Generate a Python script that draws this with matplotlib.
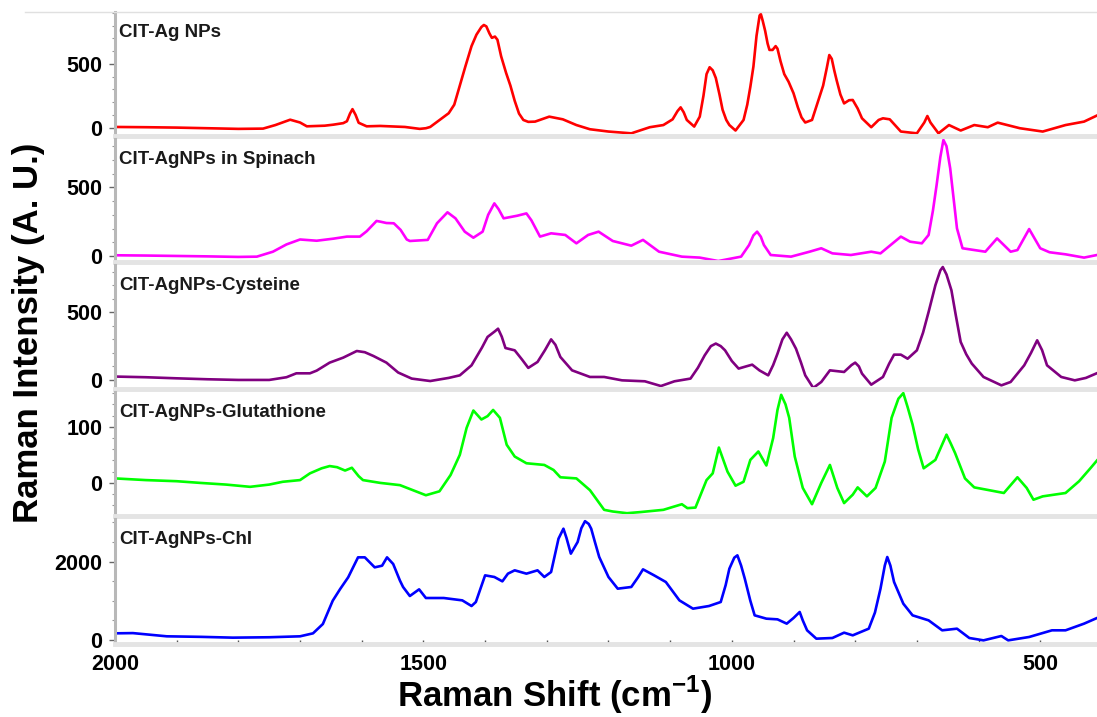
import matplotlib
matplotlib.use("Agg")
import matplotlib.pyplot as plt
from matplotlib.ticker import MultipleLocator, FixedLocator
from matplotlib.lines import Line2D

plt.rcParams["font.family"] = ["Liberation Sans", "DejaVu Sans"]
plt.rcParams["font.weight"] = "bold"
plt.rcParams["mathtext.fontset"] = "custom"
plt.rcParams["mathtext.rm"] = "Liberation Sans:bold"
plt.rcParams["mathtext.bf"] = "Liberation Sans:bold"

# ---- spectra: Raman shift (cm-1) / intensity (a.u.) ----
cit_shift = [2000, 1950, 1900, 1850, 1800, 1760, 1740, 1716, 1700, 1689, 1660, 1646,
             1630, 1624, 1619, 1615, 1610, 1605, 1592, 1570, 1530, 1506, 1496, 1489,
             1459, 1450, 1441, 1432, 1422, 1414, 1406, 1402, 1398, 1393, 1389, 1384,
             1380, 1374, 1366, 1359, 1352, 1345, 1338, 1330, 1319, 1296, 1274, 1252,
             1230, 1200, 1163, 1133, 1111, 1096, 1088, 1083, 1078, 1073, 1061, 1052,
             1046, 1041, 1036, 1031, 1026, 1020, 1015, 1009, 1004, 994, 981, 975,
             970, 965, 960, 955, 953, 950, 946, 942, 939, 934, 929, 926, 921, 915,
             908, 900, 893, 887, 881, 870, 858, 852, 846, 842, 838, 834, 830, 824,
             818, 810, 804, 796, 789, 774, 762, 755, 744, 726, 700, 688, 683, 678,
             665, 648, 629, 607, 585, 569, 533, 496, 459, 429, 408]
cit_int = [5, 3, 0, -5, -10, -8, 20, 62, 40, 10, 15, 23,
           35, 50, 110, 145, 100, 38, 10, 13, 5, -10, -5, 5,
           113, 180, 330, 480, 640, 730, 790, 806, 795, 740, 705, 715,
           690, 560, 430, 330, 210, 110, 60, 45, 47, 86, 65, 20,
           -13, -31, -45, 3, 20, 65, 130, 159, 120, 60, 8, 86,
           250, 420, 474, 450, 390, 260, 140, 60, 20, -23, 60, 180,
           320, 480, 720, 880, 892, 840, 760, 660, 610, 610, 640, 620, 520, 420,
           360, 270, 160, 80, 40, 60, 240, 330, 470, 570, 540, 450, 370, 260,
           190, 215, 217, 150, 73, 3, 60, 73, 65, -31, -45, 40, 91, 40,
           -45, 20, -23, 20, 3, 39, -5, -31, 20, 47, 95]

spinach_shift = [2000, 1950, 1900, 1850, 1800, 1770, 1744, 1722, 1700, 1673, 1646, 1624,
                 1603, 1592, 1576, 1570, 1560, 1548, 1537, 1527, 1522, 1493, 1478, 1461,
                 1448, 1433, 1419, 1404, 1395, 1385, 1378, 1370, 1348, 1333, 1325, 1311,
                 1293, 1270, 1252, 1233, 1216, 1193, 1163, 1144, 1118, 1081, 1052, 1022,
                 985, 972, 965, 959, 953, 948, 937, 904, 874, 855, 837, 807,
                 774, 759, 726, 711, 692, 681, 674, 668, 662, 657, 652, 646,
                 640, 635, 626, 589, 570, 548, 537, 518, 500, 485, 459, 429, 408]
spinach_int = [5, 3, 0, -3, -7, -5, 31, 84, 120, 111, 126, 141,
               141, 180, 255, 250, 240, 238, 190, 120, 109, 117, 238, 318,
               274, 177, 133, 177, 300, 383, 340, 274, 293, 310, 260, 141,
               165, 153, 92, 153, 177, 109, 75, 117, 31, -5, -12, -37,
               -5, 80, 150, 177, 140, 80, 7, -5, 31, 56, 19, 7,
               31, 19, 141, 104, 92, 153, 330, 517, 720, 845, 800, 638,
               400, 201, 56, 31, 128, 31, 43, 196, 56, 27, 12, -12, 7]

cysteine_shift = [2000, 1950, 1900, 1850, 1800, 1750, 1722, 1706, 1684, 1673, 1652, 1630,
                  1608, 1595, 1581, 1560, 1541, 1519, 1489, 1459, 1441, 1422, 1405, 1396,
                  1384, 1379, 1373, 1367, 1352, 1340, 1330, 1315, 1303, 1293, 1286, 1278,
                  1259, 1230, 1207, 1178, 1141, 1115, 1093, 1067, 1055, 1044, 1034, 1026,
                  1018, 1011, 1000, 989, 977, 967, 955, 941, 933, 926, 918, 911,
                  904, 896, 888, 881, 868, 855, 841, 818, 806, 800, 794, 789,
                  774, 755, 745, 737, 726, 715, 700, 690, 681, 670, 662, 658,
                  652, 644, 637, 629, 620, 611, 592, 563, 548, 526, 515, 505,
                  497, 489, 466, 444, 426, 408]
cysteine_int = [25, 20, 12, 5, 0, 0, 20, 49, 49, 69, 128, 165,
                214, 205, 177, 128, 55, 10, -8, 15, 34, 108, 240, 318,
                360, 379, 320, 236, 219, 150, 89, 133, 220, 300, 260, 170,
                71, 22, 22, -3, -10, -45, -10, 10, 90, 182, 250, 269,
                250, 219, 140, 84, 100, 113, 70, 34, 110, 194, 300, 349,
                300, 231, 130, 34, -59, -15, 71, 59, 110, 128, 100, 47,
                -35, 22, 120, 187, 187, 157, 219, 350, 503, 700, 810, 835,
                780, 663, 480, 281, 190, 121, 22, -40, -15, 108, 200, 293,
                220, 108, 22, -3, 15, 50]

glutathione_shift = [2000, 1950, 1900, 1862, 1820, 1781, 1750, 1728, 1700, 1684, 1665, 1652,
                     1640, 1627, 1616, 1605, 1598, 1570, 1538, 1496, 1474, 1456, 1441, 1430,
                     1419, 1406, 1396, 1387, 1376, 1365, 1352, 1333, 1304, 1289, 1278, 1252,
                     1230, 1207, 1193, 1170, 1148, 1111, 1081, 1072, 1059, 1041, 1031, 1021,
                     1007, 994, 981, 970, 957, 944, 933, 926, 920, 913, 907, 898,
                     885, 870, 855, 841, 829, 818, 804, 796, 781, 767, 752, 741,
                     730, 722, 715, 707, 698, 689, 670, 652, 645, 638, 622, 607,
                     578, 559, 537, 522, 511, 496, 459, 437, 418, 408]
glutathione_int = [8, 5, 3, 0, -3, -7, -3, 2, 5, 17, 26, 30,
                   28, 22, 27, 12, 5, 0, -4, -22, -15, 14, 50, 98,
                   129, 113, 119, 130, 116, 68, 47, 35, 32, 23, 10, 8,
                   -13, -48, -51, -54, -52, -48, -38, -45, -44, 5, 17, 63,
                   20, -5, 2, 41, 56, 31, 80, 130, 157, 140, 116, 47,
                   -9, -38, 0, 32, -9, -36, -21, -8, -24, -9, 38, 116,
                   150, 160, 135, 104, 60, 26, 41, 86, 70, 53, 8, -8,
                   -14, -18, 10, -9, -30, -24, -18, 3, 27, 40]

chl_shift = [2000, 1971, 1916, 1860, 1809, 1750, 1700, 1679, 1663, 1647, 1635, 1622,
             1606, 1595, 1579, 1567, 1559, 1549, 1538, 1533, 1522, 1507, 1496, 1467,
             1437, 1422, 1415, 1400, 1385, 1372, 1363, 1352, 1333, 1315, 1304, 1293,
             1285, 1281, 1273, 1268, 1261, 1250, 1244, 1238, 1232, 1228, 1222, 1215,
             1200, 1185, 1163, 1152, 1144, 1126, 1107, 1085, 1063, 1037, 1018, 1010,
             1004, 996, 991, 985, 979, 970, 963, 944, 926, 911, 900, 890,
             885, 878, 863, 837, 818, 804, 778, 768, 759, 752, 748, 743,
             737, 722, 707, 681, 659, 635, 615, 592, 563, 552, 518, 481,
             459, 429, 408]
chl_int = [170, 176, 94, 80, 60, 70, 94, 170, 408, 1003, 1300, 1598,
           2108, 2108, 1853, 1895, 2108, 1938, 1513, 1352, 1122, 1292, 1071, 1071,
           1011, 867, 969, 1649, 1607, 1496, 1692, 1777, 1692, 1777, 1607, 1734,
           2300, 2584, 2839, 2600, 2202, 2499, 2850, 3030, 2960, 2839, 2500, 2117,
           1607, 1309, 1352, 1600, 1802, 1649, 1479, 1011, 799, 867, 969, 1400,
           1819, 2100, 2159, 1900, 1564, 1000, 629, 544, 527, 417, 561, 714,
           500, 247, 34, 51, 187, 119, 289, 700, 1309, 1900, 2117, 1900,
           1479, 926, 629, 501, 247, 289, 51, -9, 102, -9, 77, 247,
           247, 417, 561]

labels = ["CIT-Ag NPs", "CIT-AgNPs in Spinach", "CIT-AgNPs-Cysteine",
          "CIT-AgNPs-Glutathione", "CIT-AgNPs-Chl"]
shifts = [cit_shift, spinach_shift, cysteine_shift, glutathione_shift, chl_shift]
intensities = [cit_int, spinach_int, cysteine_int, glutathione_int, chl_int]
colors = ["#ff0000", "#ff00ff", "#800080", "#00ff00", "#0000ff"]
ylims = [(-66, 908), (-44, 852), (-67, 850), (-59, 162), (-102, 3086)]
major_ticks = [[0, 500], [0, 500], [0, 500], [0, 100], [0, 2000]]
minor_steps = [100, 100, 100, 20, 500]

W, H = 1097, 717
fig = plt.figure(figsize=(W / 100, H / 100), dpi=100)

# panel rows in pixels (top, bottom)
rows = [(12, 136), (139, 262), (265, 389), (392, 516), (519, 644)]
left = 115

axes = []
for i, (top, bot) in enumerate(rows):
    ax = fig.add_axes([left / W, 1 - bot / H, (W - left) / W, (bot - top) / H])
    ax.plot(shifts[i], intensities[i], color=colors[i], lw=1.9, solid_joinstyle="round")
    ax.set_xlim(2000, 408)
    ax.set_ylim(*ylims[i])
    ax.yaxis.set_major_locator(FixedLocator(major_ticks[i]))
    ax.yaxis.set_minor_locator(MultipleLocator(minor_steps[i]))
    ax.xaxis.set_major_locator(MultipleLocator(500))
    ax.xaxis.set_minor_locator(MultipleLocator(100))
    for s in ("top", "right"):
        ax.spines[s].set_visible(False)
    ax.spines["left"].set_color("#b8b8b8")
    ax.spines["left"].set_linewidth(2.2)
    ax.spines["bottom"].set_color("#e4e4e4")
    ax.spines["bottom"].set_linewidth(3.5)
    ax.tick_params(axis="y", which="major", length=4, width=1, color="#666666",
                   labelsize=15.5, pad=5)
    ax.tick_params(axis="y", which="minor", length=2, width=0.8, color="#999999")
    if i < len(rows) - 1:
        ax.tick_params(axis="x", which="both", bottom=False, labelbottom=False)
    else:
        ax.tick_params(axis="x", which="both", direction="in", length=3, width=1,
                       color="#555555", labelsize=15.5, pad=7)
    for lab in ax.get_xticklabels() + ax.get_yticklabels():
        lab.set_fontweight("bold")
    ax.annotate(labels[i], xy=(0, 1), xycoords="axes fraction", xytext=(4, -25),
                textcoords="offset pixels", ha="left", va="baseline",
                fontsize=13.5, fontweight="bold", color="#1a1a1a")
    axes.append(ax)

# thin frame line along the top
fig.add_artist(Line2D([25 / W, 1], [1 - 12 / H, 1 - 12 / H], color="#e0e0e0", lw=1,
                      transform=fig.transFigure))

fig.text(29 / W, 1 - 333 / H, "Raman Intensity (A. U.)", rotation=90, ha="center",
         va="center", fontsize=25, fontweight="bold")
fig.text(555 / W, 1 - 695 / H, r"Raman Shift (cm$^{\mathbf{-1}}$)", ha="center",
         va="center", fontsize=25, fontweight="bold")

fig.savefig("out.png", dpi=100, facecolor="white")
